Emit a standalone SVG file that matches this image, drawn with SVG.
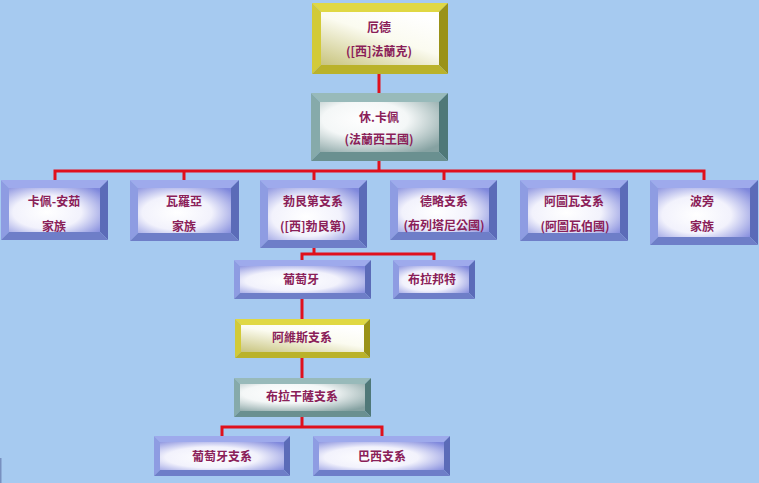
<svg xmlns="http://www.w3.org/2000/svg" width="759" height="483" viewBox="0 0 759 483">
<defs>
<style>
.blue .t{fill:#9eaaec}.blue .l{fill:#8e9ce2}.blue .r{fill:#5b6bb8}.blue .b{fill:#6e7ec8}.blue .face{fill:url(#gBlue)}
.yellow .t{fill:#e0d844}.yellow .l{fill:#d2ca38}.yellow .r{fill:#9a9218}.yellow .b{fill:#bab22a}.yellow .face{fill:url(#gYel)}
.teal .t{fill:#98baba}.teal .l{fill:#86aaaa}.teal .r{fill:#4f7878}.teal .b{fill:#6a9090}.teal .face{fill:url(#gTeal)}
.lbl{font-family:"Noto Sans CJK TC","Noto Sans CJK SC",sans-serif;font-size:12px;font-weight:bold;fill:#8a2058;text-anchor:middle}
.conn{fill:none;stroke:#e0101c;stroke-width:3;stroke-linejoin:miter}
</style>
<radialGradient id="gBlue" cx="0.42" cy="0.55" r="0.75">
<stop offset="0" stop-color="#ffffff"/><stop offset="0.5" stop-color="#f2f2fc"/><stop offset="1" stop-color="#7f88dc"/>
</radialGradient>
<linearGradient id="gYel" x1="0" y1="1" x2="0.75" y2="0">
<stop offset="0" stop-color="#c8c47e"/><stop offset="0.6" stop-color="#fbfbf0"/><stop offset="1" stop-color="#ffffff"/>
</linearGradient>
<radialGradient id="gTeal" cx="0.38" cy="0.35" r="0.8">
<stop offset="0" stop-color="#ffffff"/><stop offset="0.45" stop-color="#f4f7f7"/><stop offset="1" stop-color="#86a2a2"/>
</radialGradient>
</defs>
<rect width="759" height="483" fill="#a6caf0"/>
<rect x="0" y="458" width="1.5" height="25" fill="#7890c0"/>

<g id="connectors">
<path class="conn" d="M379,74V93"/>
<path class="conn" d="M379,161V171"/>
<path class="conn" d="M55,180V171H704V180M184,171V180M314,171V180M444,171V180M574,171V180"/>
<path class="conn" d="M314,248V254"/>
<path class="conn" d="M302,260V254H434V260"/>
<path class="conn" d="M302,299V319"/>
<path class="conn" d="M302,358V378"/>
<path class="conn" d="M302,417V427"/>
<path class="conn" d="M222,436V427H382V436"/>
</g>

<g id="n-ode" class="node yellow">
<polygon class="t" points="312,3 448,3 439,12 321,12"/>
<polygon class="l" points="312,3 321,12 321,65 312,74"/>
<polygon class="r" points="448,3 448,74 439,65 439,12"/>
<polygon class="b" points="312,74 321,65 439,65 448,74"/>
<rect class="face" x="321" y="12" width="118" height="53"/>
<text class="lbl" x="379" y="32">厄德</text>
<text class="lbl" x="379" y="56">([西]法蘭克)</text>
</g>

<g id="n-hugh" class="node teal">
<polygon class="t" points="311,93 448,93 439,102 320,102"/>
<polygon class="l" points="311,93 320,102 320,152 311,161"/>
<polygon class="r" points="448,93 448,161 439,152 439,102"/>
<polygon class="b" points="311,161 320,152 439,152 448,161"/>
<rect class="face" x="320" y="102" width="119" height="50"/>
<text class="lbl" x="379" y="122">休.卡佩</text>
<text class="lbl" x="379" y="144">(法蘭西王國)</text>
</g>

<g id="n-anjou" class="node blue">
<polygon class="t" points="1,180 108,180 100,188 9,188"/>
<polygon class="l" points="1,180 9,188 9,232 1,240"/>
<polygon class="r" points="108,180 108,240 100,232 100,188"/>
<polygon class="b" points="1,240 9,232 100,232 108,240"/>
<rect class="face" x="9" y="188" width="91" height="44"/>
<text class="lbl" x="54" y="206">卡佩-安茹</text>
<text class="lbl" x="54" y="231">家族</text>
</g>

<g id="n-valois" class="node blue">
<polygon class="t" points="130,180 239,180 231,188 138,188"/>
<polygon class="l" points="130,180 138,188 138,233 130,241"/>
<polygon class="r" points="239,180 239,241 231,233 231,188"/>
<polygon class="b" points="130,241 138,233 231,233 239,241"/>
<rect class="face" x="138" y="188" width="93" height="45"/>
<text class="lbl" x="184" y="206">瓦羅亞</text>
<text class="lbl" x="184" y="231">家族</text>
</g>

<g id="n-burgundy" class="node blue">
<polygon class="t" points="260,180 367,180 359,188 268,188"/>
<polygon class="l" points="260,180 268,188 268,240 260,248"/>
<polygon class="r" points="367,180 367,248 359,240 359,188"/>
<polygon class="b" points="260,248 268,240 359,240 367,248"/>
<rect class="face" x="268" y="188" width="91" height="52"/>
<text class="lbl" x="313" y="206">勃艮第支系</text>
<text class="lbl" x="313" y="231">([西]勃艮第)</text>
</g>

<g id="n-dreux" class="node blue">
<polygon class="t" points="390,180 497,180 489,188 398,188"/>
<polygon class="l" points="390,180 398,188 398,232 390,240"/>
<polygon class="r" points="497,180 497,240 489,232 489,188"/>
<polygon class="b" points="390,240 398,232 489,232 497,240"/>
<rect class="face" x="398" y="188" width="91" height="44"/>
<text class="lbl" x="444" y="206">德略支系</text>
<text class="lbl" x="444" y="230">(布列塔尼公國)</text>
</g>

<g id="n-artois" class="node blue">
<polygon class="t" points="520,180 628,180 620,188 528,188"/>
<polygon class="l" points="520,180 528,188 528,233 520,241"/>
<polygon class="r" points="628,180 628,241 620,233 620,188"/>
<polygon class="b" points="520,241 528,233 620,233 628,241"/>
<rect class="face" x="528" y="188" width="92" height="45"/>
<text class="lbl" x="574" y="206">阿圖瓦支系</text>
<text class="lbl" x="575" y="231">(阿圖瓦伯國)</text>
</g>

<g id="n-bourbon" class="node blue">
<polygon class="t" points="650,180 758,180 750,188 658,188"/>
<polygon class="l" points="650,180 658,188 658,237 650,245"/>
<polygon class="r" points="758,180 758,245 750,237 750,188"/>
<polygon class="b" points="650,245 658,237 750,237 758,245"/>
<rect class="face" x="658" y="188" width="92" height="49"/>
<text class="lbl" x="702" y="206">波旁</text>
<text class="lbl" x="702" y="231">家族</text>
</g>

<g id="n-portugal" class="node blue">
<polygon class="t" points="234,260 371,260 365,266 240,266"/>
<polygon class="l" points="234,260 240,266 240,293 234,299"/>
<polygon class="r" points="371,260 371,299 365,293 365,266"/>
<polygon class="b" points="234,299 240,293 365,293 371,299"/>
<rect class="face" x="240" y="266" width="125" height="27"/>
<text class="lbl" x="301" y="284">葡萄牙</text>
</g>

<g id="n-brabant" class="node blue">
<polygon class="t" points="393,260 475,260 469,266 399,266"/>
<polygon class="l" points="393,260 399,266 399,293 393,299"/>
<polygon class="r" points="475,260 475,299 469,293 469,266"/>
<polygon class="b" points="393,299 399,293 469,293 475,299"/>
<rect class="face" x="399" y="266" width="70" height="27"/>
<text class="lbl" x="432" y="284">布拉邦特</text>
</g>

<g id="n-aviz" class="node yellow">
<polygon class="t" points="235,319 370,319 364,325 241,325"/>
<polygon class="l" points="235,319 241,325 241,352 235,358"/>
<polygon class="r" points="370,319 370,358 364,352 364,325"/>
<polygon class="b" points="235,358 241,352 364,352 370,358"/>
<rect class="face" x="241" y="325" width="123" height="27"/>
<text class="lbl" x="302" y="342">阿維斯支系</text>
</g>

<g id="n-braganza" class="node teal">
<polygon class="t" points="234,378 371,378 365,384 240,384"/>
<polygon class="l" points="234,378 240,384 240,411 234,417"/>
<polygon class="r" points="371,378 371,417 365,411 365,384"/>
<polygon class="b" points="234,417 240,411 365,411 371,417"/>
<rect class="face" x="240" y="384" width="125" height="27"/>
<text class="lbl" x="302" y="401">布拉干薩支系</text>
</g>

<g id="n-portugal-branch" class="node blue">
<polygon class="t" points="154,436 290,436 284,442 160,442"/>
<polygon class="l" points="154,436 160,442 160,470 154,476"/>
<polygon class="r" points="290,436 290,476 284,470 284,442"/>
<polygon class="b" points="154,476 160,470 284,470 290,476"/>
<rect class="face" x="160" y="442" width="124" height="28"/>
<text class="lbl" x="222" y="461">葡萄牙支系</text>
</g>

<g id="n-brazil-branch" class="node blue">
<polygon class="t" points="313,436 450,436 444,442 319,442"/>
<polygon class="l" points="313,436 319,442 319,470 313,476"/>
<polygon class="r" points="450,436 450,476 444,470 444,442"/>
<polygon class="b" points="313,476 319,470 444,470 450,476"/>
<rect class="face" x="319" y="442" width="125" height="28"/>
<text class="lbl" x="382" y="461">巴西支系</text>
</g>
</svg>
